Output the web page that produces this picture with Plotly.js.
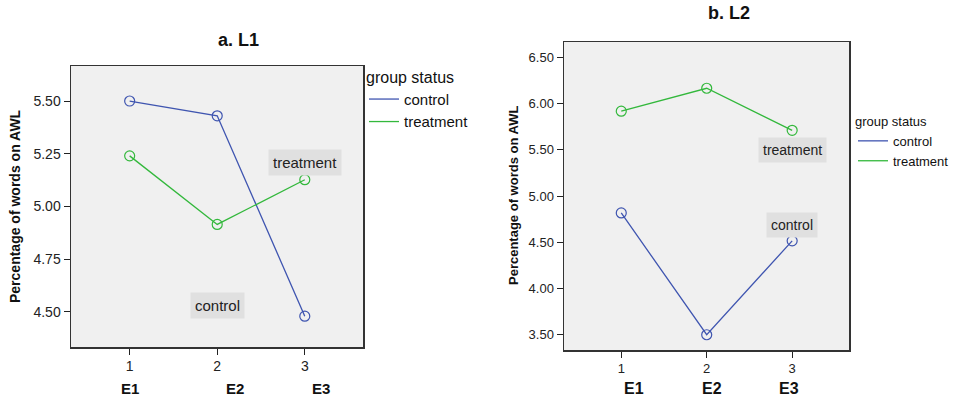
<!DOCTYPE html>
<html><head><meta charset="utf-8">
<script src="https://cdn.plot.ly/plotly-3.0.1.min.js"></script>
<style>html,body{margin:0;padding:0;background:#fff}#c{width:955px;height:396px}</style>
</head><body><div id="c"></div>
<script>
const xVals = [1, 2, 3];
const eLabels = ['E1', 'E2', 'E3'];
const groups = ['control', 'treatment'];
const l1Control = [5.50, 5.43, 4.48];
const l1Treatment = [5.24, 4.915, 5.127];
const l2Control = [4.817, 3.50, 4.515];
const l2Treatment = [5.917, 6.165, 5.71];
const panelTitles = ['a. L1', 'b. L2'];
const yTitle = 'Percentage of words on AWL';
const legendTitle = 'group status';

const BLUE = '#3f55b0', GREEN = '#33b83c';
const FONT = 'Liberation Sans, Arial, sans-serif';

function series(x, y, color, xa, ya) {
  return {x: x, y: y, xaxis: xa, yaxis: ya, type: 'scatter', mode: 'lines+markers',
    line: {color: color, width: 1.3}, marker: {symbol: 'circle-open', size: 10, color: color, line: {width: 1.2}},
    showlegend: false, hoverinfo: 'x+y'};
}
function legendItem(name, color, leg) {
  return {x: [null], y: [null], type: 'scatter', mode: 'lines', name: name, legend: leg,
    line: {color: color, width: 1.3}, showlegend: true};
}

const data = [
  series(xVals, l1Control, BLUE, 'x', 'y'),
  series(xVals, l1Treatment, GREEN, 'x', 'y'),
  series(xVals, l2Control, BLUE, 'x2', 'y2'),
  series(xVals, l2Treatment, GREEN, 'x2', 'y2'),
  legendItem(groups[0], BLUE, 'legend'),
  legendItem(groups[1], GREEN, 'legend'),
  legendItem(groups[0], BLUE, 'legend2'),
  legendItem(groups[1], GREEN, 'legend2')
];

function xax(domain, anchor, fs) {
  return {domain: domain, anchor: anchor, range: [0.33, 3.665], tickvals: xVals, ticktext: xVals.map(String),
    ticks: 'outside', ticklen: 6, tickcolor: '#222', showgrid: false, zeroline: false,
    showline: true, mirror: true, linecolor: '#333', linewidth: 1.5,
    tickfont: {family: FONT, size: fs, color: '#222'}};
}
function yax(domain, anchor, range, dtick, fs) {
  return {domain: domain, anchor: anchor, range: range, dtick: dtick, tick0: 0, tickformat: '.2f',
    ticks: 'outside', ticklen: 6, tickcolor: '#222', showgrid: false, zeroline: false,
    showline: true, mirror: true, linecolor: '#333', linewidth: 1.5,
    tickfont: {family: FONT, size: fs, color: '#222'}};
}

const ann = [];
function txt(text, xref, yref, x, y, fs, extra) {
  return Object.assign({text: text, xref: xref, yref: yref, x: x, y: y, xanchor: 'center', yanchor: 'middle',
    showarrow: false, font: {family: FONT, size: fs, color: '#111'}}, extra || {});
}
ann.push(txt('<b>' + panelTitles[0] + '</b>', 'paper', 'paper', 238/955, 1 - 40/396, 18));
ann.push(txt('<b>' + panelTitles[1] + '</b>', 'paper', 'paper', 729/955, 1 - 13/396, 18));
ann.push(txt('<b>' + yTitle + '</b>', 'paper', 'paper', 15/955, 1 - 206/396, 14, {textangle: -90}));
ann.push(txt('<b>' + yTitle + '</b>', 'paper', 'paper', 513/955, 1 - 196/396, 13, {textangle: -90}));
const eX1 = [1, 2.2, 3.19], eX2 = [1.15, 2.06, 2.96];
eLabels.forEach((t, i) => {
  ann.push(txt('<b>' + t + '</b>', 'x', 'paper', eX1[i], 1 - 388/396, 15));
  ann.push(txt('<b>' + t + '</b>', 'x2', 'paper', eX2[i], 1 - 388/396, 16));
});
function tag(text, xref, yref, x, y, fs) {
  return txt(text, xref, yref, x, y, fs, {bgcolor: '#e0e0e0', borderpad: 4,
    font: {family: FONT, size: fs, color: '#222'}});
}
ann.push(tag(groups[1], 'x', 'y', 3, 5.21, 15));
ann.push(tag(groups[0], 'x', 'y', 2, 4.53, 15));
ann.push(tag(groups[1], 'x2', 'y2', 3, 5.5, 14));
ann.push(tag(groups[0], 'x2', 'y2', 3, 4.69, 14));

const layout = {
  width: 955, height: 396, margin: {l: 0, r: 0, t: 0, b: 0},
  paper_bgcolor: '#ffffff', plot_bgcolor: '#f0f0f0',
  font: {family: FONT, color: '#222'},
  xaxis: xax([71/955, 363/955], 'y', 14),
  yaxis: yax([1 - 347/396, 1 - 66/396], 'x', [4.334, 5.666], 0.25, 14),
  xaxis2: xax([564/955, 849/955], 'y2', 13),
  yaxis2: yax([1 - 350/396, 1 - 42/396], 'x2', [3.335, 6.665], 0.5, 13),
  legend: {x: 364/955, y: 1 - 62/396, xanchor: 'left', yanchor: 'top', bgcolor: 'rgba(0,0,0,0)',
    title: {text: legendTitle, font: {family: FONT, size: 16, color: '#111'}}, tracegroupgap: 0,
    font: {family: FONT, size: 15, color: '#111'}, itemwidth: 30},
  legend2: {x: 853/955, y: 1 - 109/396, xanchor: 'left', yanchor: 'top', bgcolor: 'rgba(0,0,0,0)',
    title: {text: legendTitle, font: {family: FONT, size: 13, color: '#111'}},
    font: {family: FONT, size: 13, color: '#111'}, itemwidth: 30},
  annotations: ann
};

Plotly.newPlot('c', data, layout, {displayModeBar: false, staticPlot: true});
</script></body></html>
